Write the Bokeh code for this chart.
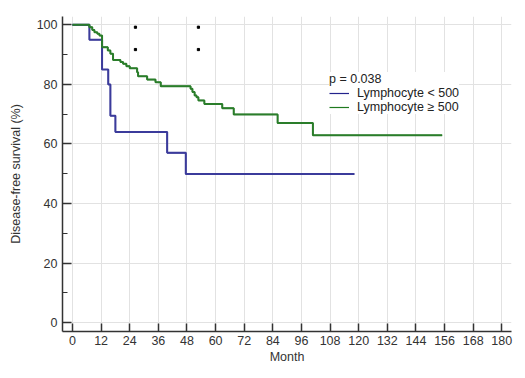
from bokeh.plotting import figure
from bokeh.models import FixedTicker, Legend, LegendItem, Range1d
from bokeh.embed import file_html
from bokeh.resources import INLINE

# Data
low_month = [0, 7.1, 12.4, 15.0, 15.9, 18.0, 39.7, 47.5, 118.2]
low_surv = [100, 95.0, 85.0, 80.0, 69.5, 64.0, 57.0, 49.9, 49.9]

high_month = [0, 7.1, 8.3, 9.2, 10.4, 11.3, 12.4, 14.8, 15.9, 17.0, 20.1, 21.2,
              22.6, 24.0, 27.1, 27.5, 31.3, 34.8, 37.0, 49.5, 50.3, 51.2, 52.0,
              52.8, 55.3, 62.8, 67.6, 86.0, 100.8, 155.0]
high_surv = [100, 99.2, 98.3, 97.5, 97.0, 96.4, 92.5, 91.4, 90.3, 88.2, 87.5, 86.9,
             86.1, 85.4, 84.1, 82.7, 81.6, 80.7, 79.4, 78.5, 77.4, 76.3, 75.7,
             74.6, 73.4, 72.0, 69.9, 67.0, 62.9, 62.9]

dot_x = [26.4, 26.4, 52.8, 52.8]
dot_y = [99.2, 91.7, 99.2, 91.7]

x_ticks = [0, 12, 24, 36, 48, 60, 72, 84, 96, 108, 120, 132, 144, 156, 168, 180]
y_ticks = [0, 20, 40, 60, 80, 100]
y_minor = [10, 30, 50, 70, 90]

labels = ["Lymphocyte < 500", "Lymphocyte \u2265 500"]
p_text = "p = 0.038"

FONT = "Liberation Sans"
TXT = "#333333"
FS = "12.5px"

p = figure(width=520, height=372, output_backend="svg", toolbar_location=None,
           x_range=Range1d(-4.19, 184.07), y_range=Range1d(-3.0, 102.8),
           min_border_left=62, min_border_right=9, min_border_top=16,
           min_border_bottom=41)
p.outline_line_color = None
p.background_fill_color = "white"
p.border_fill_color = "white"

p.xaxis.ticker = FixedTicker(ticks=x_ticks)
p.yaxis.ticker = FixedTicker(ticks=y_ticks, minor_ticks=y_minor)
p.xgrid.ticker = FixedTicker(ticks=x_ticks)
p.ygrid.ticker = FixedTicker(ticks=y_ticks)
p.grid.grid_line_color = "#e2e2e2"
p.grid.grid_line_width = 1

for ax in (p.xaxis, p.yaxis):
    ax.axis_line_color = "#333333"
    ax.axis_line_width = 1.5
    ax.major_tick_line_color = "#333333"
    ax.major_tick_line_width = 1.5
    ax.major_tick_out = 0
    ax.minor_tick_out = 0
    ax.major_label_text_font = FONT
    ax.major_label_text_font_size = FS
    ax.major_label_text_color = TXT
    ax.axis_label_text_font = FONT
    ax.axis_label_text_font_size = FS
    ax.axis_label_text_font_style = "normal"
    ax.axis_label_text_color = TXT

p.xaxis.major_tick_in = 8
p.xaxis.minor_tick_line_color = None
p.xaxis.major_label_standoff = 4
p.xaxis.axis_label = "Month"
p.xaxis.axis_label_standoff = 2

p.yaxis.major_tick_in = 9
p.yaxis.minor_tick_in = 5
p.yaxis.minor_tick_line_color = "#333333"
p.yaxis.minor_tick_line_width = 1
p.yaxis.major_label_standoff = 5
p.yaxis.axis_label = "Disease-free survival (%)"
p.yaxis.axis_label_standoff = 11

# thin copies used as legend glyphs (hidden beneath the thick curves)
l_low = p.step(low_month, low_surv, mode="after", line_color="#23238c", line_width=1.2)
l_high = p.step(high_month, high_surv, mode="after", line_color="#1f7a1f", line_width=1.2)
r_low = p.step(low_month, low_surv, mode="after", line_color="#3b3b9b", line_width=2)
r_high = p.step(high_month, high_surv, mode="after", line_color="#2a7d2a", line_width=2)
p.scatter(dot_x, dot_y, marker="square", size=2.2, color="black")

legend = Legend(items=[LegendItem(label=labels[0], renderers=[l_low]),
                       LegendItem(label=labels[1], renderers=[l_high])],
                title=p_text, location=(267, 217))
legend.title_text_font = FONT
legend.title_text_font_size = FS
legend.title_text_font_style = "normal"
legend.title_text_color = "#222222"
legend.title_standoff = 0
legend.label_text_font = FONT
legend.label_text_font_size = FS
legend.label_text_color = "#222222"
legend.glyph_width = 20
legend.glyph_height = 14
legend.label_height = 14
legend.label_standoff = 8
legend.spacing = 0
legend.padding = 4
legend.margin = 0
legend.border_line_color = None
legend.background_fill_color = "white"
legend.background_fill_alpha = 1.0
p.add_layout(legend)

open("out.html", "w").write(file_html(p, INLINE))
